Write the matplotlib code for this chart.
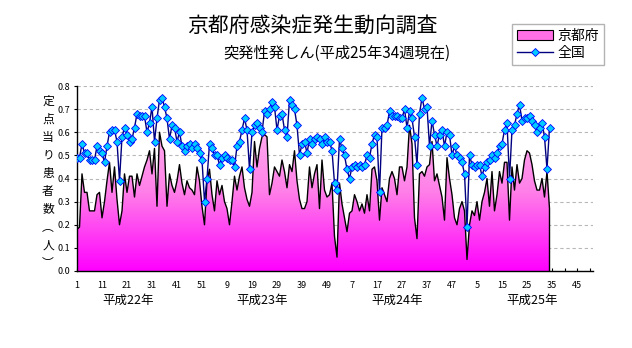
import matplotlib
matplotlib.use("Agg")
import matplotlib.pyplot as plt
import numpy as np
from matplotlib.patches import Polygon, Patch
from matplotlib.lines import Line2D
from matplotlib.colors import LinearSegmentedColormap

plt.rcParams['font.family'] = ['Noto Sans CJK JP', 'DejaVu Sans']

# weekly values, 平成22年第1週 .. 平成25年第34週
kyoto_h22 = [0.18, 0.19, 0.42, 0.34, 0.34, 0.26, 0.26, 0.26, 0.33, 0.34,
             0.23, 0.30, 0.39, 0.47, 0.34, 0.45, 0.31, 0.20, 0.26, 0.42,
             0.34, 0.41, 0.41, 0.32, 0.42, 0.37, 0.41, 0.45, 0.48, 0.52,
             0.42, 0.53, 0.28, 0.60, 0.54, 0.52, 0.28, 0.42, 0.37, 0.34,
             0.39, 0.46, 0.38, 0.33, 0.39, 0.36, 0.35, 0.33, 0.45, 0.39,
             0.28, 0.20]
kyoto_h23 = [0.39, 0.44, 0.33, 0.26, 0.39, 0.33, 0.37, 0.30, 0.27, 0.20,
             0.30, 0.41, 0.35, 0.41, 0.45, 0.36, 0.31, 0.28, 0.34, 0.56,
             0.45, 0.53, 0.58, 0.59, 0.58, 0.33, 0.38, 0.45, 0.43, 0.41,
             0.48, 0.43, 0.36, 0.46, 0.43, 0.52, 0.39, 0.31, 0.27, 0.27,
             0.30, 0.45, 0.36, 0.42, 0.46, 0.27, 0.48, 0.35, 0.32, 0.33,
             0.38, 0.15]
kyoto_h24 = [0.06, 0.38, 0.29, 0.23, 0.17, 0.25, 0.26, 0.33, 0.30, 0.26,
             0.29, 0.25, 0.33, 0.26, 0.44, 0.45, 0.39, 0.22, 0.36, 0.33,
             0.30, 0.40, 0.43, 0.40, 0.33, 0.45, 0.45, 0.39, 0.45, 0.63,
             0.55, 0.23, 0.14, 0.42, 0.43, 0.41, 0.45, 0.46, 0.56, 0.39,
             0.42, 0.37, 0.32, 0.22, 0.49, 0.40, 0.33, 0.23, 0.20, 0.27,
             0.30, 0.26]
kyoto_h25 = [0.05, 0.20, 0.26, 0.24, 0.30, 0.22, 0.30, 0.34, 0.40, 0.28,
             0.43, 0.26, 0.33, 0.43, 0.38, 0.47, 0.47, 0.22, 0.45, 0.35,
             0.46, 0.38, 0.40, 0.48, 0.52, 0.51, 0.46, 0.39, 0.35, 0.35,
             0.40, 0.32, 0.43, 0.27]

national_h22 = [0.49, 0.49, 0.55, 0.51, 0.51, 0.48, 0.48, 0.48, 0.54, 0.52,
                0.51, 0.47, 0.54, 0.60, 0.61, 0.61, 0.56, 0.39, 0.58, 0.62,
                0.59, 0.56, 0.57, 0.62, 0.68, 0.67, 0.67, 0.67, 0.60, 0.64,
                0.71, 0.56, 0.66, 0.74, 0.75, 0.71, 0.66, 0.57, 0.63, 0.62,
                0.56, 0.60, 0.54, 0.52, 0.54, 0.55, 0.53, 0.55, 0.53, 0.51,
                0.48, 0.30]
national_h23 = [0.40, 0.55, 0.53, 0.50, 0.50, 0.46, 0.49, 0.50, 0.49, 0.48,
                0.48, 0.45, 0.54, 0.56, 0.61, 0.66, 0.61, 0.44, 0.60, 0.63,
                0.64, 0.62, 0.60, 0.69, 0.68, 0.70, 0.73, 0.71, 0.61, 0.67,
                0.68, 0.61, 0.58, 0.74, 0.72, 0.70, 0.63, 0.50, 0.55, 0.56,
                0.51, 0.57, 0.55, 0.57, 0.58, 0.57, 0.55, 0.58, 0.56, 0.56,
                0.52, 0.38]
national_h24 = [0.35, 0.57, 0.53, 0.50, 0.44, 0.40, 0.45, 0.46, 0.45, 0.46,
                0.45, 0.46, 0.50, 0.49, 0.55, 0.59, 0.58, 0.34, 0.62, 0.62,
                0.63, 0.69, 0.67, 0.67, 0.67, 0.66, 0.66, 0.70, 0.62, 0.69,
                0.66, 0.58, 0.46, 0.68, 0.75, 0.70, 0.71, 0.54, 0.65, 0.59,
                0.54, 0.59, 0.61, 0.54, 0.60, 0.59, 0.50, 0.54, 0.50, 0.49,
                0.47, 0.42]
national_h25 = [0.19, 0.50, 0.46, 0.45, 0.46, 0.46, 0.41, 0.45, 0.47, 0.48,
                0.50, 0.49, 0.51, 0.54, 0.55, 0.61, 0.64, 0.40, 0.61, 0.63,
                0.68, 0.72, 0.65, 0.66, 0.66, 0.67, 0.65, 0.63, 0.60, 0.62,
                0.64, 0.58, 0.44, 0.62]

kyoto = np.array(kyoto_h22 + kyoto_h23 + kyoto_h24 + kyoto_h25)
national = np.array(national_h22 + national_h23 + national_h24 + national_h25)

xtick_labels = ['1', '11', '21', '31', '41', '51', '9', '19', '29', '39', '49',
                '7', '17', '27', '37', '47', '5', '15', '25', '35', '45']
year_labels = ['平成22年', '平成23年', '平成24年', '平成25年']
ylabel_chars = ['定', '点', '当', 'り', '患', '者', '数', '︵', '人', '︶']

fig = plt.figure(figsize=(6.32, 3.48), dpi=100)
ax = fig.add_axes([77 / 632, 77 / 348, 515.5 / 632, 185 / 348])

x = np.arange(len(kyoto))

# gradient area for 京都府
verts = np.column_stack([np.r_[x[0], x, x[-1]], np.r_[0, kyoto, 0]])
clip = Polygon(verts, closed=True, facecolor='none', edgecolor='none')
ax.add_patch(clip)
cmap = LinearSegmentedColormap.from_list('pk', ['#ff00ff', '#ff7fe8', '#ffb8f0'])
grad = np.linspace(0, 1, 256).reshape(-1, 1)
im = ax.imshow(grad, cmap=cmap, origin='lower', aspect='auto',
               extent=[x[0], x[-1], 0, 0.68], zorder=1)
im.set_clip_path(clip)
ax.plot(np.r_[x, x[-1]], np.r_[kyoto, 0], color='black', lw=1.0, zorder=2)

# 全国
ax.plot(np.arange(len(national)), national, color='#000080', lw=1.0,
        marker='D', markersize=4.4, markerfacecolor='#00ccff',
        markeredgecolor='#0000ff', markeredgewidth=0.6, zorder=3)

ax.set_xlim(0, 206.2)
ax.set_ylim(0, 0.8)

ax.set_yticks(np.arange(0, 0.81, 0.1))
ax.set_yticklabels(['%.1f' % v for v in np.arange(0, 0.81, 0.1)])
ax.set_xticks(np.arange(0, 201, 10))
ax.set_xticklabels(xtick_labels)
ax.set_xticks(np.arange(5, 206, 10), minor=True)
ax.tick_params(axis='x', which='both', direction='in', length=2.5, width=0.8,
               labelsize=6.5, pad=7)
ax.tick_params(axis='y', direction='out', length=2.5, width=0.8,
               labelsize=6.5, pad=2.5)

ax.yaxis.grid(True, color='#b8b8b8', linestyle=(0, (3, 2.5)), lw=0.8)
ax.set_axisbelow(True)
for s in ['top', 'right']:
    ax.spines[s].set_visible(False)
for s in ['left', 'bottom']:
    ax.spines[s].set_linewidth(1.0)
    ax.spines[s].set_color('black')

# year labels under the axis
for lab, xp in zip(year_labels, [20.5, 74.2, 128.2, 182.2]):
    ax.text(xp, -0.125, lab, ha='center', va='center', fontsize=9)

# stacked y label
for k, ch in enumerate(ylabel_chars):
    fig.text(48 / 632, 1 - (101 + 18 * k) / 348, ch, ha='center', va='center',
             fontsize=8.5)

fig.text(312 / 632, 1 - 26 / 348, '京都府感染症発生動向調査', ha='center',
         va='center', fontsize=15)
fig.text(337 / 632, 1 - 53 / 348, '突発性発しん(平成25年34週現在)', ha='center',
         va='center', fontsize=11)

handles = [Patch(facecolor='#ff70e6', edgecolor='black', lw=0.8),
           Line2D([0], [0], color='#000080', lw=1.0, marker='D', markersize=4.4,
                  markerfacecolor='#00ccff', markeredgecolor='#0000ff',
                  markeredgewidth=0.6)]
leg = fig.legend(handles, ['京都府', '全国'], loc='upper left',
                 bbox_to_anchor=(512 / 632, 1 - 24 / 348), fontsize=10,
                 frameon=True, fancybox=False, handlelength=2.6,
                 handletextpad=0.3, borderpad=0.35, labelspacing=0.25,
                 borderaxespad=0)
leg.get_frame().set_edgecolor('#a0a0a0')
leg.get_frame().set_linewidth(1.0)

fig.savefig('out.png', dpi=100)
